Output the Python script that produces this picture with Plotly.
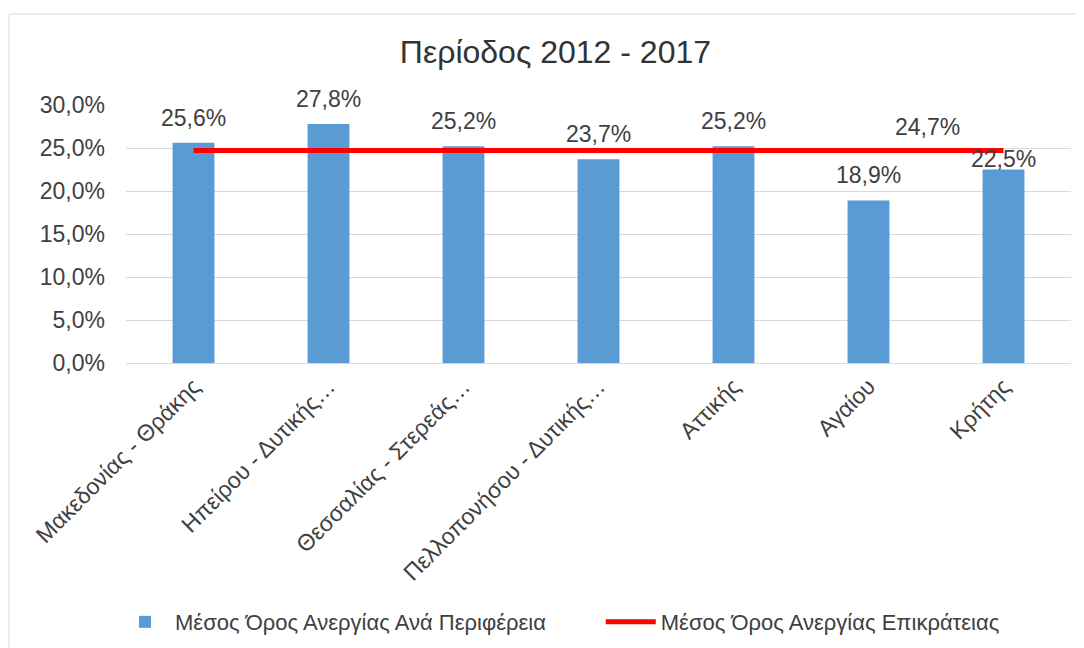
import plotly.graph_objects as go

categories = ["Μακεδονίας - Θράκης", "Ηπείρου - Δυτικής…", "Θεσσαλίας - Στερεάς…",
              "Πελλοπονήσου - Δυτικής…", "Αττικής", "Αγαίου", "Κρήτης"]
region_avg = [25.6, 27.8, 25.2, 23.7, 25.2, 18.9, 22.5]
national_avg = [24.7] * 7
label_shift = [25, 25, 25, 25, 25, 25, 11]

bar_name = "Μέσος Όρος Ανεργίας Ανά Περιφέρεια"
line_name = "Μέσος Όρος Ανεργίας Επικράτειας"
title_text = "Περίοδος 2012 - 2017"

txt = "#404040"
font = "Liberation Sans, Arial, sans-serif"

fig = go.Figure()
fig.add_trace(go.Bar(x=categories, y=region_avg, name=bar_name, legend="legend",
                     showlegend=True,
                     marker=dict(color="#5B9BD5", line=dict(width=0)), width=0.31))
fig.add_trace(go.Scatter(x=categories, y=national_avg, name=line_name, mode="lines",
                         showlegend=True,
                         legend="legend2", line=dict(color="#FF0000", width=5)))

ann = []
for i, (c, v) in enumerate(zip(categories, region_avg)):
    ann.append(dict(x=i, y=v, xref="x", yref="y", text=f"{v:.1f}".replace(".", ",") + "%",
                    showarrow=False, yanchor="middle", yshift=label_shift[i],
                    font=dict(size=23, color=txt, family=font)))
ann.append(dict(x=5.44, y=national_avg[-1], xref="x", yref="y",
                text=f"{national_avg[-1]:.1f}".replace(".", ",") + "%",
                showarrow=False, yanchor="middle", yshift=24,
                font=dict(size=23, color=txt, family=font)))

leg_common = dict(orientation="h", y=-1.004, yanchor="middle", xanchor="left",
                  font=dict(size=22, color=txt, family=font), itemwidth=50,
                  bgcolor="rgba(0,0,0,0)", visible=True)

fig.update_layout(
    width=1084, height=648,
    margin=dict(l=118, r=21, t=97, b=293),
    paper_bgcolor="white", plot_bgcolor="white",
    separators=",.",
    showlegend=True,
    font=dict(family=font, color=txt),
    title=dict(text=title_text, x=0.505, xanchor="center", y=1 - 44 / 648, yanchor="middle",
               font=dict(size=32, color="#333333", family=font)),
    xaxis=dict(type="category", tickangle=-45, tickfont=dict(size=23, color=txt),
               showgrid=False, showline=True, linecolor="#D9D9D9", linewidth=1,
               ticks="", range=[-0.5, 6.5]),
    yaxis=dict(range=[0, 30], dtick=5, tickformat=".1f", ticksuffix="%",
               tickfont=dict(size=23, color=txt), gridcolor="#D9D9D9", gridwidth=1,
               zeroline=False, ticks="", ticklen=0, ticklabelstandoff=20),
    legend=dict(x=-0.0116, **leg_common),
    legend2=dict(x=0.5024, **leg_common),
    annotations=ann,
    shapes=[dict(type="rect", xref="paper", yref="paper", x0=-0.1238, x1=1.05, y0=-1.2, y1=1.3527,
                 line=dict(color="#D9D9D9", width=1), fillcolor="rgba(0,0,0,0)", layer="below")],
)

fig.write_html("out.html")
